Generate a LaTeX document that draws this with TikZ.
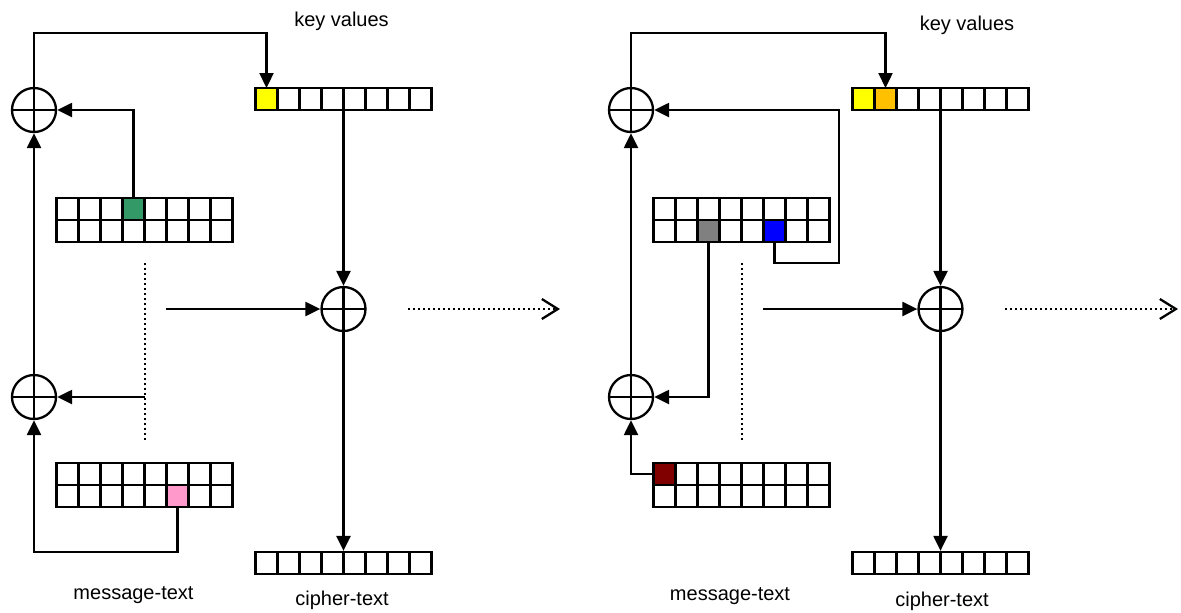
\documentclass[tikz,border=0pt]{standalone}
\usepackage{fontspec}
\setmainfont{Liberation Sans}
\usetikzlibrary{shapes,arrows.meta,positioning,matrix}

\definecolor{keyyellow}{HTML}{FFFF00}
\definecolor{keyorange}{HTML}{FFC000}
\definecolor{cellgreen}{HTML}{339966}
\definecolor{cellpink}{HTML}{FF99CC}
\definecolor{cellgray}{HTML}{808080}
\definecolor{cellblue}{HTML}{0000FF}
\definecolor{celldarkred}{HTML}{800000}

\begin{document}
\begin{tikzpicture}[
    x=0.5pt, y=-0.5pt,
    line width=1.15pt,
    register/.style={matrix of nodes, nodes in empty cells, inner sep=0pt, outer sep=0pt,
        column sep=-1.15pt, row sep=-1.15pt,
        nodes={rectangle, draw, minimum size=11pt, inner sep=0pt, outer sep=0pt}},
    xorop/.style={circle, draw, minimum size=22pt, inner sep=0pt,
        path picture={\draw (path picture bounding box.north) -- (path picture bounding box.south)
            (path picture bounding box.west) -- (path picture bounding box.east);}},
    arrow/.style={-{Triangle[length=7.5pt,width=7pt]}},
    dots/.style={dash pattern=on 1pt off 1.5pt},
    more/.style={dots, -{Straight Barb[length=8pt,width=10pt]}}
]
    \useasboundingbox (0,0) rectangle (1181,612);

    % first round
    \node[xorop] (xorA1) at (34,110) {};
    \node[xorop] (xorA2) at (34,397) {};
    \node[xorop] (xorA3) at (343.5,309) {};
    \matrix[register] (keyA) at (343.5,99) {
        |[fill=keyyellow]| & & & & & & & \\
    };
    \matrix[register] (msgA) at (144.5,220) {
        & & & |[fill=cellgreen]| & & & & \\
        & & & & & & & \\
    };
    \matrix[register] (msgB) at (144.5,485) {
        & & & & & & & \\
        & & & & & |[fill=cellpink]| & & \\
    };
    \matrix[register] (ciphA) at (343.5,563) {
        & & & & & & & \\
    };

    \node (keylblA) at (341.5,21.5) {key values};
    \node (msglblA) at (133.5,595.5) {message-text};
    \node (ciphlblA) at (342,600.5) {cipher-text};

    \coordinate (topA) at (34,33);
    \coordinate (retA) at (34,552);
    \coordinate (dotA1) at (145,263);
    \coordinate (dotA2) at (145,442);
    \coordinate (tapA) at (145,397);
    \coordinate (inA) at (166,309);
    \coordinate (moreA1) at (408,309);
    \coordinate (moreA2) at (560,309);

    \draw[arrow] (xorA1.north) -- (topA) -| (keyA-1-1.north);
    \draw[arrow] (msgA-1-4.north) |- (xorA1.east);
    \draw[arrow] (xorA2.north) -- (xorA1.south);
    \draw[arrow] (tapA) -- (xorA2.east);
    \draw[arrow] (msgB-2-6.south) |- (retA) -- (xorA2.south);
    \draw[arrow] (inA) -- (xorA3.west);
    \draw[arrow] (keyA.south) -- (xorA3.north);
    \draw[arrow] (xorA3.south) -- (ciphA.north);
    \draw[dots] (dotA1) -- (dotA2);
    \draw[more] (moreA1) -- (moreA2);

    % second round
    \node[xorop] (xorB1) at (631,110) {};
    \node[xorop] (xorB2) at (631,397) {};
    \node[xorop] (xorB3) at (940.5,309) {};
    \matrix[register] (keyB) at (940.5,99) {
        |[fill=keyyellow]| & |[fill=keyorange]| & & & & & & \\
    };
    \matrix[register] (msgC) at (741.5,220) {
        & & & & & & & \\
        & & |[fill=cellgray]| & & & |[fill=cellblue]| & & \\
    };
    \matrix[register] (msgD) at (741.5,485) {
        |[fill=celldarkred]| & & & & & & & \\
        & & & & & & & \\
    };
    \matrix[register] (ciphB) at (940.5,563) {
        & & & & & & & \\
    };

    \node (keylblB) at (967,25.5) {key values};
    \node (msglblB) at (730,596.5) {message-text};
    \node (ciphlblB) at (942,601.5) {cipher-text};

    \coordinate (topB) at (631,33);
    \coordinate (loopB) at (839,263);
    \coordinate (dotB1) at (742,263);
    \coordinate (dotB2) at (742,442);
    \coordinate (inB) at (763,309);
    \coordinate (moreB1) at (1005,309);
    \coordinate (moreB2) at (1178,309);

    \draw[arrow] (xorB1.north) -- (topB) -| (keyB-1-2.north);
    \draw[arrow] (msgC-2-6.south) |- (loopB) |- (xorB1.east);
    \draw[arrow] (msgC-2-3.south) |- (xorB2.east);
    \draw[arrow] (xorB2.north) -- (xorB1.south);
    \draw[arrow] (msgD-1-1.west) -| (xorB2.south);
    \draw[arrow] (inB) -- (xorB3.west);
    \draw[arrow] (keyB.south) -- (xorB3.north);
    \draw[arrow] (xorB3.south) -- (ciphB.north);
    \draw[dots] (dotB1) -- (dotB2);
    \draw[more] (moreB1) -- (moreB2);
\end{tikzpicture}
\end{document}
